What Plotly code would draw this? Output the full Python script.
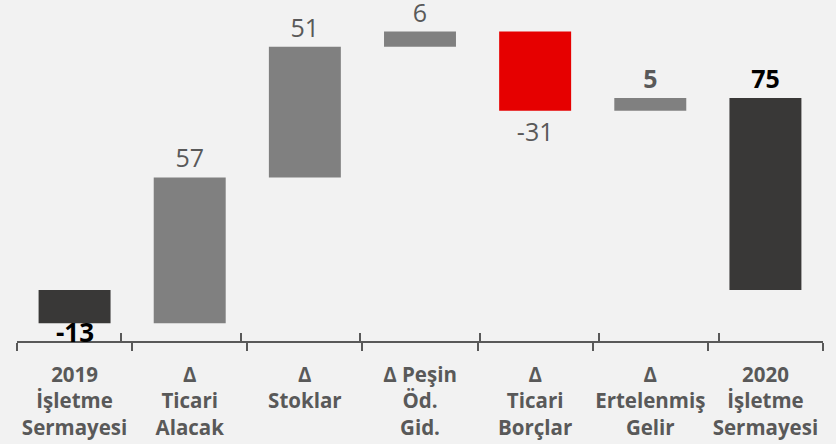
import plotly.graph_objects as go

categories = ["2019<br>İşletme<br>Sermayesi", "Δ<br>Ticari<br>Alacak", "Δ<br>Stoklar",
              "Δ Peşin<br>Öd.<br>Gid.", "Δ<br>Ticari<br>Borçlar", "Δ<br>Ertelenmiş<br>Gelir",
              "2020<br>İşletme<br>Sermayesi"]
values = [-13, 57, 51, 6, -31, 5, 75]
measures = ["absolute", "relative", "relative", "relative", "relative", "relative", "total"]
bold_label = [True, False, False, False, False, True, True]
label_colors = ["#000000", "#595959", "#595959", "#595959", "#595959", "#595959", "#000000"]

labels = [f"<b>{v}</b>" if b else f"{v}" for v, b in zip(values, bold_label)]
# the first label straddles the bar end, so it is placed as an annotation
text_pos = ["none"] + ["outside"] * (len(values) - 1)

fig = go.Figure()
fig.add_trace(go.Waterfall(
    x=categories, y=values, measure=measures,
    text=labels, textposition=text_pos, texttemplate="%{text}",
    textfont=dict(family="Open Sans", size=25, color=label_colors),
    increasing=dict(marker=dict(color="#808080")),
    decreasing=dict(marker=dict(color="#e60000")),
    totals=dict(marker=dict(color="#393837")),
    connector=dict(visible=False),
    cliponaxis=False,
    showlegend=False,
    hoverinfo="skip",
))
# helper trace so the overlay axis draws the upward half of the boundary ticks
fig.add_trace(go.Scatter(x=categories, y=[None] * len(categories), xaxis="x2",
                         mode="markers", showlegend=False, hoverinfo="skip"))

fig.add_annotation(x=categories[0], y=values[0], text=labels[0], showarrow=False,
                   yanchor="top", yshift=11,
                   font=dict(family="Open Sans", size=26, color=label_colors[0]))

fig.update_layout(
    width=836, height=444,
    margin=dict(l=17, r=13, t=10, b=103, autoexpand=False),
    paper_bgcolor="#f2f2f2", plot_bgcolor="#f2f2f2",
    waterfallgap=0.375,
    xaxis=dict(type="category", categoryorder="array", categoryarray=categories,
               automargin=False, tickangle=0,
               showline=True, linecolor="#595959", linewidth=2,
               ticks="outside", tickson="boundaries", ticklen=8, tickwidth=1.5,
               tickcolor="#595959", showgrid=False, zeroline=False,
               ticklabelstandoff=14,
               tickfont=dict(family="Open Sans", size=20.5, color="#595959", weight="bold")),
    xaxis2=dict(type="category", categoryorder="array", categoryarray=categories,
                overlaying="x", anchor="y", side="bottom", automargin=False,
                ticks="inside", tickson="boundaries", ticklen=8, tickwidth=1.5,
                tickcolor="#595959", showticklabels=False, showgrid=False,
                showline=False, zeroline=False),
    yaxis=dict(range=[-19.9, 109.4], visible=False, showgrid=False, zeroline=False,
               automargin=False),
)

fig.write_html("out.html")
